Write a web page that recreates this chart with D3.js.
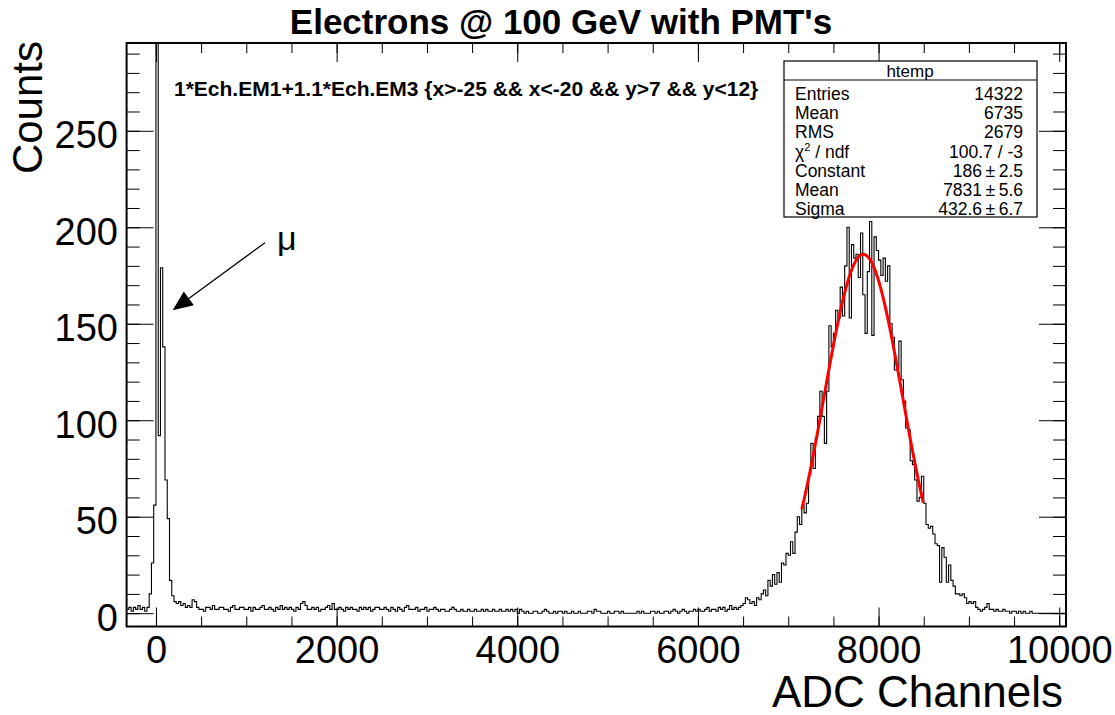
<!DOCTYPE html>
<html><head><meta charset="utf-8">
<script src="https://cdn.jsdelivr.net/npm/d3@7/dist/d3.min.js"></script>
<style>
body{margin:0;background:#fff}
svg{display:block}
text{font-family:"Liberation Sans",Arial,Helvetica,sans-serif;fill:#000}
</style>
</head><body>
<svg id="c" width="1115" height="715"></svg>
<script>
// ---------------- data ----------------
const histMin = -325, binWidth = 25;   // 416 bins from -325 to 10075
const counts = [
2,3,1,3,2,4,2,3,1,3,
10,26,56,330,92,179,138,69,49,17,9,
6,5,6,4,5,3,4,3,7,6,
3,2,2,1,3,3,2,4,2,2,
3,3,2,2,1,3,4,2,2,3,
3,2,2,3,1,3,2,2,3,4,
2,2,3,2,1,3,2,4,2,3,
2,3,2,1,3,2,5,6,4,2,
2,3,2,3,1,2,2,3,4,2,
5,2,2,3,2,1,3,2,3,2,
2,1,3,2,3,2,3,1,2,3,
3,2,2,3,2,1,3,2,1,3,
2,1,3,4,2,2,2,3,1,2,
2,3,1,2,2,3,2,1,2,2,
1,1,2,3,2,1,1,2,1,1,
2,1,1,2,1,1,2,1,2,1,
1,2,1,1,2,1,1,2,1,2,1,2,
0,2,1,0,1,0,0,1,1,0,
0,1,2,1,0,0,1,0,1,1,
0,1,0,0,1,0,0,1,0,0,
0,1,1,0,2,1,1,0,0,0,
1,0,0,1,1,0,1,0,0,0,
0,0,0,1,0,1,0,0,0,1,
1,0,1,0,0,1,1,0,1,2,
1,0,1,2,1,0,1,1,2,1,
2,1,1,2,3,1,2,2,1,3,
2,3,1,2,4,2,3,2,3,4,
5,8,7,5,6,4,8,7,10,12,
9,17,14,20,15,21,16,26,25,31,
30,37,31,42,50,46,56,52,57,72,
88,75,91,102,115,102,88,115,149,138,
145,157,153,169,154,180,200,153,191,184,
186,174,197,165,145,177,203,144,195,188,
183,175,184,172,180,150,143,126,127,141,
121,110,96,95,79,77,69,58,60,71,
57,46,44,45,41,36,35,16,34,29,
16,25,17,14,10,10,9,10,8,5,
6,5,6,3,2,1,2,3,5,2,
2,1,2,1,1,2,1,1,0,1,
1,0,1,0,1,0,0,1,0,0,
0,0,0,0,0,0,0,0,0,0,0,0,0
];
const xDomain = [-325, 10075];
const yDomain = [-6.9, 295.5];
const xMajorTicks = [0, 2000, 4000, 6000, 8000, 10000];
const xTickLabels = ["0", "2000", "4000", "6000", "8000", "10000"];
const xMinorTicks = [0,500,1000,1500,2000,2500,3000,3500,4000,4500,5000,5500,6000,6500,7000,7500,8000,8500,9000,9500,10000];
const yMajorTicks = [0, 50, 100, 150, 200, 250];
const yTickLabels = ["0", "50", "100", "150", "200", "250"];
const yMinorTicks = [0,10,20,30,40,50,60,70,80,90,100,110,120,130,140,150,160,170,180,190,200,210,220,230,240,250,260,270,280,290];
const statNames = ["Entries", "Mean", "RMS", "chi2", "Constant", "Mean", "Sigma"];
const statValues = ["14322", "6735", "2679", "100.7 / -3", "186\u2009\u00b1\u20092.5", "7831\u2009\u00b1\u20095.6", "432.6\u2009\u00b1\u20096.7"];
const fitConstant = 186, fitMean = 7831, fitSigma = 432.6;
const fitRange = [7150, 8495];
const muArrowFrom = [1207, 192], muArrowTo = [185, 157], muLabelAt = [1340, 188];
const titleText = "Electrons @ 100 GeV with PMT's";
const cutText = "1*Ech.EM1+1.1*Ech.EM3 {x>-25 && x<-20 && y>7 && y<12}";

// ---------------- layout ----------------
const L = 126.6, R = 1066, T = 43, B = 626.5;
const FONT = '"Liberation Sans",Arial,Helvetica,sans-serif';
const svg = d3.select("#c");
const x = d3.scaleLinear().domain(xDomain).range([L, R]);
const y = d3.scaleLinear().domain(yDomain).range([B, T]);

svg.append("defs").append("clipPath").attr("id","frame")
  .append("rect").attr("x",L).attr("y",T).attr("width",R-L).attr("height",B-T);

// histogram (step outline)
const pts = [];
counts.forEach((c,i)=>{
  const lo = histMin + i*binWidth, hi = lo + binWidth;
  pts.push([lo,c],[hi,c]);
});
svg.append("path").attr("clip-path","url(#frame)")
  .attr("d", d3.line().x(d=>x(d[0])).y(d=>y(d[1]))(pts))
  .attr("fill","none").attr("stroke","#000").attr("stroke-width",1.1);

// fit curve
const fitPts = d3.range(fitRange[0], fitRange[1]+1, 5).map(v=>[v, fitConstant*Math.exp(-0.5*Math.pow((v-fitMean)/fitSigma,2))]);
svg.append("path").attr("clip-path","url(#frame)")
  .attr("d", d3.line().x(d=>x(d[0])).y(d=>y(d[1])).curve(d3.curveLinear)(fitPts))
  .attr("fill","none").attr("stroke","#ff0000").attr("stroke-width",3);

// axes
function styleAxis(sel){
  sel.select(".domain").remove();
  sel.selectAll(".tick line").attr("stroke","#000").attr("stroke-width",1);
  sel.attr("font-family",FONT);
}
// bottom
svg.append("g").attr("transform",`translate(0,${B})`)
  .call(d3.axisBottom(x).tickValues(xMinorTicks).tickFormat("").tickSizeInner(-10).tickSizeOuter(0)).call(styleAxis);
const xb = svg.append("g").attr("transform",`translate(0,${B})`)
  .call(d3.axisBottom(x).tickValues(xMajorTicks).tickFormat((d,i)=>xTickLabels[i]).tickSizeInner(-19).tickSizeOuter(0).tickPadding(9.5)).call(styleAxis);
xb.attr("font-size",38);
// top
svg.append("g").attr("transform",`translate(0,${T})`)
  .call(d3.axisTop(x).tickValues(xMinorTicks).tickFormat("").tickSizeInner(-10).tickSizeOuter(0)).call(styleAxis);
svg.append("g").attr("transform",`translate(0,${T})`)
  .call(d3.axisTop(x).tickValues(xMajorTicks).tickFormat("").tickSizeInner(-19).tickSizeOuter(0)).call(styleAxis);
// left
svg.append("g").attr("transform",`translate(${L},0)`)
  .call(d3.axisLeft(y).tickValues(yMinorTicks).tickFormat("").tickSizeInner(-13).tickSizeOuter(0)).call(styleAxis);
const yl = svg.append("g").attr("transform",`translate(${L},0)`)
  .call(d3.axisLeft(y).tickValues(yMajorTicks).tickFormat((d,i)=>yTickLabels[i]).tickSizeInner(-27).tickSizeOuter(0).tickPadding(8.6)).call(styleAxis);
yl.attr("font-size",38);
yl.selectAll(".tick text").attr("dy","0.45em");
// right
svg.append("g").attr("transform",`translate(${R},0)`)
  .call(d3.axisRight(y).tickValues(yMinorTicks).tickFormat("").tickSizeInner(-13).tickSizeOuter(0)).call(styleAxis);
svg.append("g").attr("transform",`translate(${R},0)`)
  .call(d3.axisRight(y).tickValues(yMajorTicks).tickFormat("").tickSizeInner(-27).tickSizeOuter(0)).call(styleAxis);

// frame
svg.append("rect").attr("x",L).attr("y",T).attr("width",R-L).attr("height",B-T)
  .attr("fill","none").attr("stroke","#000").attr("stroke-width",2);

// titles
svg.append("text").attr("x",561).attr("y",34).attr("text-anchor","middle")
  .attr("font-size",35).attr("font-weight","bold").text(titleText);
svg.append("text").attr("x",1063).attr("y",707).attr("text-anchor","end")
  .attr("font-size",44).text("ADC Channels");
svg.append("text").attr("transform","translate(42,41) rotate(-90)").attr("text-anchor","end")
  .attr("font-size",42).text("Counts");
svg.append("text").attr("x",174).attr("y",96).attr("font-size",21).attr("font-weight","bold").text(cutText);

// mu annotation
const ax0 = x(muArrowFrom[0]), ay0 = y(muArrowFrom[1]), ax1 = x(muArrowTo[0]), ay1 = y(muArrowTo[1]);
const ang = Math.atan2(ay1-ay0, ax1-ax0), hl = 20, hw = 8.5;
const bx = ax1 - hl*Math.cos(ang), by = ay1 - hl*Math.sin(ang);
svg.append("line").attr("x1",ax0).attr("y1",ay0).attr("x2",bx).attr("y2",by).attr("stroke","#000").attr("stroke-width",1.3);
svg.append("path").attr("d",`M${ax1},${ay1}L${bx - hw*Math.sin(ang)},${by + hw*Math.cos(ang)}L${bx + hw*Math.sin(ang)},${by - hw*Math.cos(ang)}Z`).attr("fill","#000");
svg.append("text").attr("x",x(muLabelAt[0])).attr("y",y(muLabelAt[1])).attr("font-size",34).text("\u03bc");

// stats box
const sb = svg.append("g");
sb.append("rect").attr("x",784).attr("y",61).attr("width",253).attr("height",156)
  .attr("fill","#fff").attr("stroke","#000").attr("stroke-width",1.2);
sb.append("line").attr("x1",784).attr("x2",1037).attr("y1",80).attr("y2",80).attr("stroke","#000").attr("stroke-width",1.2);
sb.append("text").attr("x",910).attr("y",77).attr("text-anchor","middle").attr("font-size",17).text("htemp");
statNames.forEach((n,i)=>{
  const yy = 100 + i*19.17;
  const t = sb.append("text").attr("x",795).attr("y",yy).attr("font-size",17.5);
  if(n==="chi2"){
    t.append("tspan").text("\u03c7");
    t.append("tspan").attr("font-size",11).attr("dy",-7).text("2");
    t.append("tspan").attr("dy",7).text(" / ndf");
  } else t.text(n);
  sb.append("text").attr("x",1023).attr("y",yy).attr("text-anchor","end").attr("font-size",17.5).text(statValues[i]);
});
</script>
</body></html>
